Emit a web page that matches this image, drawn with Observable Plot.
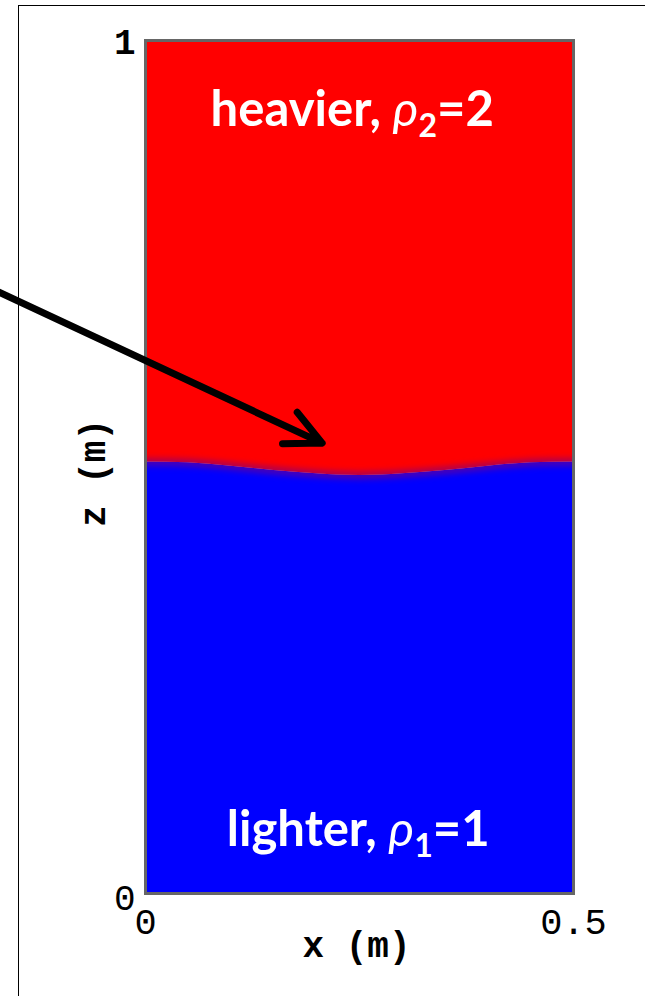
<!DOCTYPE html>
<html>
<head>
<meta charset="utf-8">
<script src="https://cdn.jsdelivr.net/npm/d3@7"></script>
<script src="https://cdn.jsdelivr.net/npm/@observablehq/plot@0.6"></script>
<style>
  html, body { margin: 0; padding: 0; background: #fff; }
  #wrap { position: relative; width: 645px; height: 996px; overflow: hidden; }
  #border { position: absolute; left: 18px; top: 5px; right: -5px; bottom: -5px;
            border-top: 1.5px solid #000; border-left: 1.5px solid #000; pointer-events: none; }
  #chart { position: absolute; left: 0; top: 0; }
</style>
</head>
<body>
<div id="wrap"><div id="chart"></div><div id="border"></div></div>
<script>
// Interface between the two fluids
const interfaceX = [0, 0.05, 0.1, 0.15, 0.2, 0.25, 0.3, 0.35, 0.4, 0.45, 0.5];
const interfaceZ = [0.506, 0.505, 0.501, 0.496, 0.492, 0.490, 0.492, 0.496, 0.501, 0.505, 0.506];
// Domain limits
const xDomain = [0, 0.5];
const zDomain = [0, 1];
// Tick labels
const xTicks = [0, 0.5];
const xTickLabels = ["0", "0.5"];
const zTicksBold = [1];
const zTicksPlain = [0];
const zTickLabels = {1: "1", 0: "0"};
// Arrow (start outside, tip inside the red fluid)
const arrowX1 = [-0.18], arrowZ1 = [0.709], arrowX2 = [0.2064], arrowZ2 = [0.528];
// Fluid labels
const fluidNames = ["heavier, ", "lighter, "];
const fluidSubs = ["2", "1"];
const fluidValues = ["2", "1"];

const iface = interfaceX.map((x, i) => ({x, z: interfaceZ[i]}));
const arrows = arrowX1.map((x1, i) => ({x1, y1: arrowZ1[i], x2: arrowX2[i], y2: arrowZ2[i]}));
const labels = fluidNames.map((n, i) => ({name: n, sub: fluidSubs[i], val: fluidValues[i], text: n + "ρ" + fluidSubs[i] + "=" + fluidValues[i]}));

const mono = "'Liberation Mono', 'DejaVu Sans Mono', monospace";

const plot = Plot.plot({
  width: 645,
  height: 996,
  marginLeft: 145,
  marginRight: 72,
  marginTop: 40,
  marginBottom: 103,
  x: {domain: xDomain, axis: null},
  y: {domain: zDomain, axis: null},
  style: {background: "transparent", overflow: "visible"},
  marks: [
    Plot.areaY(iface, {x: "x", y1: zDomain[0], y2: "z", fill: "#0000ff", curve: "natural"}),
    Plot.areaY(iface, {x: "x", y1: "z", y2: zDomain[1], fill: "#ff0000", curve: "natural"}),
    Plot.line(iface, {x: "x", y: "z", stroke: "#7a0085", strokeWidth: 7, strokeOpacity: 0.7, curve: "natural", clip: true, ariaDescription: "interface"}),
    Plot.frame({stroke: "#666", strokeWidth: 3}),
    Plot.axisY(zTicksBold, {ticks: zTicksBold, tickSize: 0, tickPadding: 10, fontSize: 36, fontFamily: mono, fontWeight: "bold", fill: "#000", label: null, dy: 2, tickFormat: d => zTickLabels[d]}),
    Plot.axisY(zTicksPlain, {ticks: zTicksPlain, tickSize: 0, tickPadding: 10, fontSize: 36, fontFamily: mono, fill: "#000", label: null, dy: 5, tickFormat: d => zTickLabels[d]}),
    Plot.axisX(xTicks, {ticks: xTicks, tickSize: 0, tickPadding: 14, fontSize: 37, fontFamily: mono, fill: "#000", label: null, tickFormat: d => xTickLabels[xTicks.indexOf(d)]}),
    Plot.text(["x (m)"], {frameAnchor: "bottom", textAnchor: "middle", lineAnchor: "middle", dy: 52, dx: -3, fontSize: 36, fontWeight: "bold", fontFamily: mono, fill: "#000"}),
    Plot.text(["z (m)"], {frameAnchor: "left", textAnchor: "middle", lineAnchor: "middle", rotate: -90, dx: -52, dy: 6, fontSize: 36, fontWeight: "bold", fontFamily: mono, fill: "#000"}),
    Plot.text(labels, {x: [0.2415, 0.2485], y: [0.918, 0.074], text: "text", fill: "#fff", fontSize: 49, fontWeight: "bold", fontFamily: "Lato, 'Open Sans', sans-serif", lineAnchor: "middle", ariaDescription: "fluid-labels"}),
    Plot.arrow(arrows, {x1: "x1", y1: "y1", x2: "x2", y2: "y2", stroke: "#000", strokeWidth: 7, headAngle: 52, headLength: 8.5, strokeLinecap: "round", strokeLinejoin: "round"})
  ]
});

// Blur the interface line to imitate the diffuse boundary (clip keeps it inside the frame)
const ifaceG = plot.querySelector('[aria-description="interface"]');
if (ifaceG) {
  const path = ifaceG.querySelector("path");
  if (path) path.style.filter = "blur(3px)";
}

// Rich text for the fluid labels (italic rho and subscript)
const labelTexts = plot.querySelectorAll('[aria-description="fluid-labels"] text');
labelTexts.forEach((t, i) => {
  const d = labels[i];
  if (!d) return;
  while (t.firstChild) t.removeChild(t.firstChild);
  const ns = "http://www.w3.org/2000/svg";
  const a = document.createElementNS(ns, "tspan"); a.textContent = d.name; t.appendChild(a);
  const r = document.createElementNS(ns, "tspan"); r.textContent = "ρ"; r.setAttribute("font-style", "italic"); r.setAttribute("font-weight", "normal"); t.appendChild(r);
  const s = document.createElementNS(ns, "tspan"); s.textContent = d.sub; s.setAttribute("font-size", "32"); s.setAttribute("dy", "11"); t.appendChild(s);
  const v = document.createElementNS(ns, "tspan"); v.textContent = "=" + d.val; v.setAttribute("dy", "-11"); t.appendChild(v);
});

document.getElementById("chart").appendChild(plot);
</script>
</body>
</html>
